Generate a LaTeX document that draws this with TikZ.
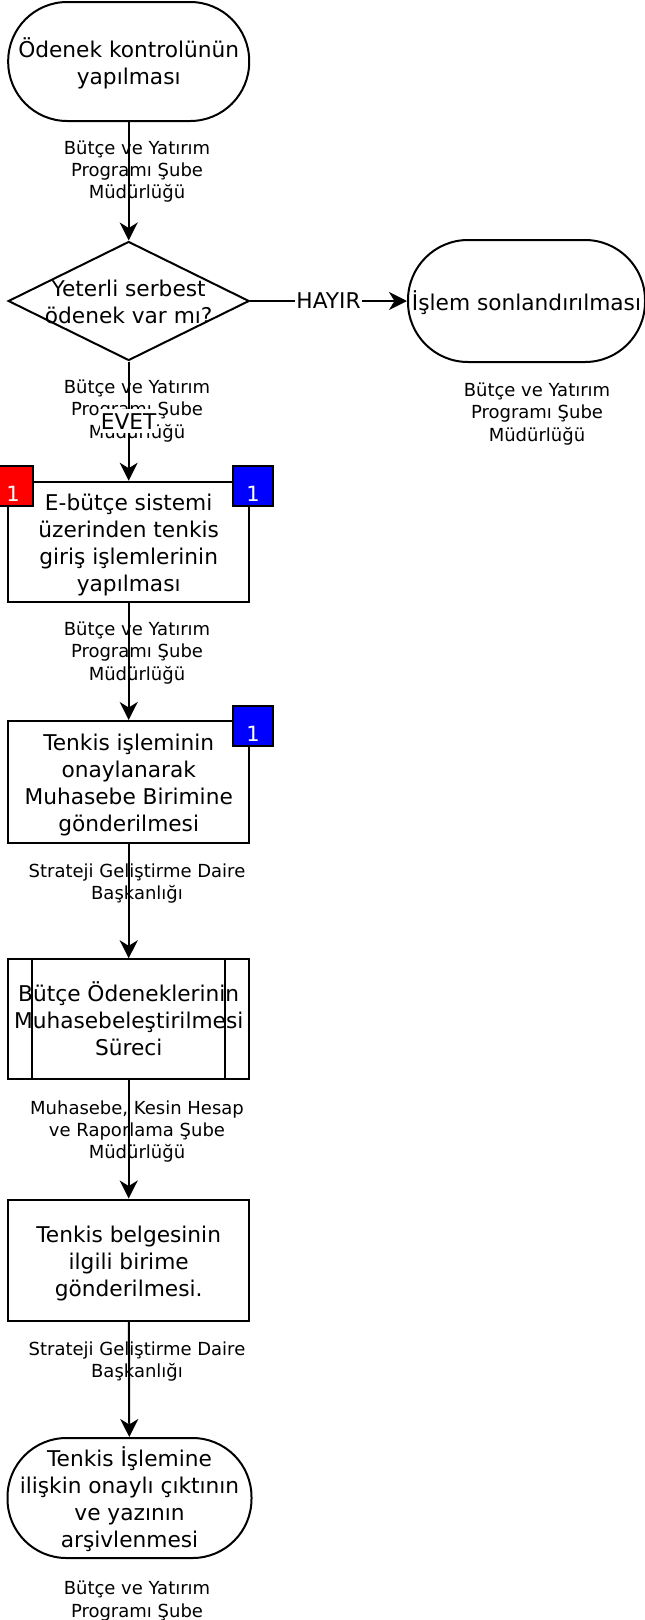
\documentclass[tikz,border=0pt]{standalone}
\usepackage{fontspec}
\setmainfont{DejaVu Sans}
\usetikzlibrary{shapes.geometric,arrows.meta,calc}
\newcommand{\tophold}{\rule{0pt}{24pt}}
\newcommand{\bothold}{\rule[-6pt]{0pt}{6pt}}

\begin{document}
\begin{tikzpicture}[x=1pt, y=-1pt, line width=2pt]
\tikzset{ >={Stealth[length=18pt,width=18pt,inset=5.5pt]},
  maintxt/.style={font=\fontsize{21.7}{27}\selectfont, align=center},
  depttxt/.style={font=\fontsize{18}{22.4}\selectfont, align=center, inner sep=0pt},
  termbox/.style={draw, rounded corners=59pt, minimum width=241pt, minimum height=119pt, inner sep=0pt, maintxt},
  procbox/.style={draw, rectangle, minimum width=241pt, minimum height=120pt, inner sep=0pt, maintxt},
  decbox/.style={draw, diamond, minimum width=241pt, minimum height=119pt, inner sep=0pt},
  numbox/.style={draw, minimum size=40pt, inner sep=0pt, text height=32pt, text depth=0pt, text=white, font=\fontsize{21}{25}\selectfont},
  answer/.style={fill=white, inner xsep=1pt, inner ysep=4pt, maintxt},
}

\useasboundingbox (0,0) rectangle (645,1620);

%\draw [lightgray, dashed](0,0) grid[step=50] (645,1620);

\node [termbox] (start) at (128.7,61.5) {\tophold Ödenek kontrolünün\\yapılması\bothold};
\node [decbox, label={[maintxt]center:\tophold Yeterli serbest\\ödenek var mı?\bothold}] (dec) at (128.7,301) {};
\node [termbox, minimum width=237pt, minimum height=122pt, rounded corners=60pt] (stop) at (526.5,301) {\tophold İşlem sonlandırılması\bothold};

\node [procbox] (entry) at (128.7,541.7) {\tophold E-bütçe sistemi\\üzerinden tenkis\\giriş işlemlerinin\\yapılması\bothold};
\node [numbox, fill=red] (redA) at (13,485.5) {1};
\node [numbox, fill=blue] (blueA) at (253,485.5) {1};

\node [procbox, minimum height=122pt] (approve) at (128.7,782) {\tophold Tenkis işleminin\\onaylanarak\\Muhasebe Birimine\\gönderilmesi\bothold};
\node [numbox, fill=blue] (blueB) at (253,725.7) {1};

\node [procbox] (sub) at (128.7,1019.3) {\tophold Bütçe Ödeneklerinin\\Muhasebeleştirilmesi\\Süreci\bothold};
\draw ($(sub.north west)+(25,0)$) -- ($(sub.south west)+(25,0)$);
\draw ($(sub.north east)+(-25,0)$) -- ($(sub.south east)+(-25,0)$);

\node [procbox, minimum height=121pt] (send) at (128.7,1260) {\tophold Tenkis belgesinin\\ilgili birime\\gönderilmesi.\bothold};
\node [termbox, minimum width=244pt, minimum height=120pt] (archive) at (129.5,1498) {\tophold Tenkis İşlemine\\ilişkin onaylı çıktının\\ve yazının\\arşivlenmesi\bothold};

% units
\node [depttxt] (deptA) at (137,171.5) {Bütçe ve Yatırım\\Programı Şube\\Müdürlüğü};
\node [depttxt] (deptB) at (137,411) {Bütçe ve Yatırım\\Programı Şube\\Müdürlüğü};
\node [depttxt] (deptC) at (537,414) {Bütçe ve Yatırım\\Programı Şube\\Müdürlüğü};
\node [depttxt] (deptD) at (137,653) {Bütçe ve Yatırım\\Programı Şube\\Müdürlüğü};
\node [depttxt] (deptE) at (137,883.5) {Strateji Geliştirme Daire\\Başkanlığı};
\node [depttxt] (deptF) at (137,1131.5) {Muhasebe, Kesin Hesap\\ve Raporlama Şube\\Müdürlüğü};
\node [depttxt] (deptG) at (137,1361.5) {Strateji Geliştirme Daire\\Başkanlığı};
\node [depttxt] (deptH) at (137,1601) {Bütçe ve Yatırım\\Programı Şube};

% flow
\draw [->] (start) -- (dec);
\draw [->] (dec) -- node [answer] {HAYIR} (stop);
\draw [->] (dec) -- node [answer] {EVET} (entry);
\draw [->] (entry) -- (approve);
\draw [->] (approve) -- (sub);
\draw [->] (sub) -- (send);
\draw [->] (send) -- (archive);
\end{tikzpicture}
\end{document}
